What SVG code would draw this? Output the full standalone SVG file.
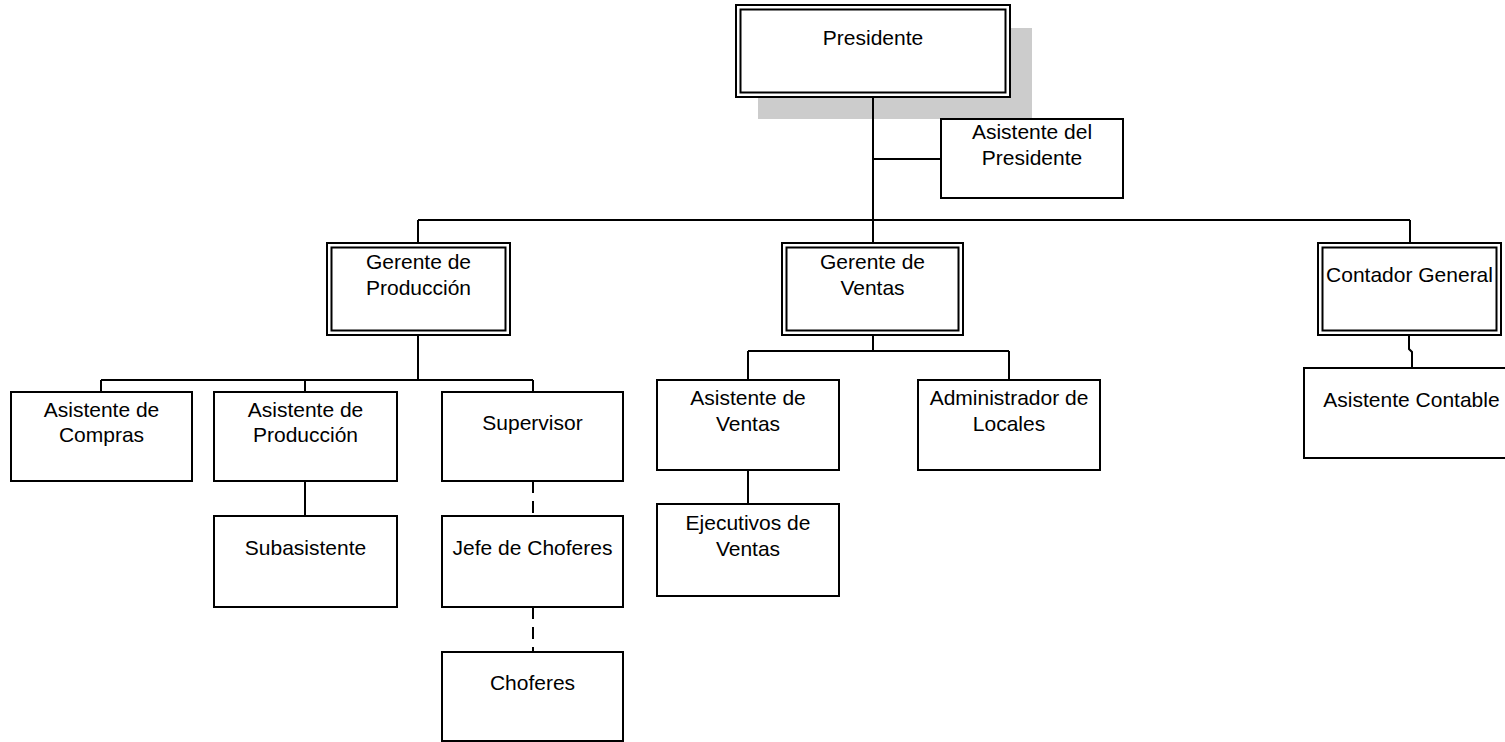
<svg xmlns="http://www.w3.org/2000/svg" width="1505" height="742" viewBox="0 0 1505 742">
  <style>
    .box { fill: #ffffff; stroke: #000000; stroke-width: 2; }
    .inner { fill: none; stroke: #000000; stroke-width: 2; }
    .lbl { font-family: "Liberation Sans", Arial, sans-serif; font-size: 21px; fill: #000000; text-anchor: middle; }
    .wire { fill: none; stroke: #000000; stroke-width: 2; }
    .dash { fill: none; stroke: #000000; stroke-width: 2; stroke-dasharray: 12 8; }
  </style>
  <rect width="1505" height="742" fill="#ffffff"/>

  <!-- drop shadow of the top box -->
  <rect x="758" y="28" width="274" height="91" fill="#cccccc"/>

  <!-- connectors -->
  <g id="connectors">
    <path class="wire" d="M873 97 V244"/>
    <path class="wire" d="M873 159 H941"/>
    <path class="wire" d="M418 220 H1410"/>
    <path class="wire" d="M418 220 V243"/>
    <path class="wire" d="M1410 220 V243"/>
    <!-- production branch -->
    <path class="wire" d="M418 335 V380"/>
    <path class="wire" d="M101 380 H533"/>
    <path class="wire" d="M101 380 V392"/>
    <path class="wire" d="M305 380 V392"/>
    <path class="wire" d="M533 380 V392"/>
    <path class="wire" d="M305 481 V516"/>
    <path class="dash" d="M533 481 V516"/>
    <path class="dash" d="M533 607 V652"/>
    <!-- sales branch -->
    <path class="wire" d="M873 335 V351"/>
    <path class="wire" d="M748 351 H1009"/>
    <path class="wire" d="M748 351 V380"/>
    <path class="wire" d="M1009 351 V380"/>
    <path class="wire" d="M748 470 V504"/>
    <!-- accounting branch -->
    <path class="wire" d="M1409 335 V349 L1412 352 V368"/>
  </g>

  <g id="presidente">
    <rect class="box" x="736" y="5" width="274" height="92"/>
    <rect class="inner" x="740.5" y="9.5" width="265" height="83"/>
    <text class="lbl" x="873" y="45">Presidente</text>
  </g>

  <g id="asistente-presidente">
    <rect class="box" x="941" y="119" width="182" height="79"/>
    <text class="lbl" x="1032" y="139">Asistente del</text>
    <text class="lbl" x="1032" y="165">Presidente</text>
  </g>

  <g id="gerente-produccion">
    <rect class="box" x="327" y="243" width="183" height="92"/>
    <rect class="inner" x="331.5" y="247.5" width="174" height="83"/>
    <text class="lbl" x="418.5" y="269">Gerente de</text>
    <text class="lbl" x="418.5" y="295">Producción</text>
  </g>

  <g id="gerente-ventas">
    <rect class="box" x="782" y="243" width="181" height="92"/>
    <rect class="inner" x="786.5" y="247.5" width="172" height="83"/>
    <text class="lbl" x="872.5" y="269">Gerente de</text>
    <text class="lbl" x="872.5" y="295">Ventas</text>
  </g>

  <g id="contador-general">
    <rect class="box" x="1318" y="243" width="183" height="92"/>
    <rect class="inner" x="1322.5" y="247.5" width="174" height="83"/>
    <text class="lbl" x="1409.5" y="282">Contador General</text>
  </g>

  <g id="asistente-compras">
    <rect class="box" x="11" y="392" width="181" height="89"/>
    <text class="lbl" x="101.5" y="417">Asistente de</text>
    <text class="lbl" x="101.5" y="442">Compras</text>
  </g>

  <g id="asistente-produccion">
    <rect class="box" x="214" y="392" width="183" height="89"/>
    <text class="lbl" x="305.5" y="417">Asistente de</text>
    <text class="lbl" x="305.5" y="442">Producción</text>
  </g>

  <g id="supervisor">
    <rect class="box" x="442" y="392" width="181" height="89"/>
    <text class="lbl" x="532.5" y="430">Supervisor</text>
  </g>

  <g id="subasistente">
    <rect class="box" x="214" y="516" width="183" height="91"/>
    <text class="lbl" x="305.5" y="555">Subasistente</text>
  </g>

  <g id="jefe-choferes">
    <rect class="box" x="442" y="516" width="181" height="91"/>
    <text class="lbl" x="532.5" y="555">Jefe de Choferes</text>
  </g>

  <g id="choferes">
    <rect class="box" x="442" y="652" width="181" height="89"/>
    <text class="lbl" x="532.5" y="690">Choferes</text>
  </g>

  <g id="asistente-ventas">
    <rect class="box" x="657" y="380" width="182" height="90"/>
    <text class="lbl" x="748" y="405">Asistente de</text>
    <text class="lbl" x="748" y="431">Ventas</text>
  </g>

  <g id="administrador-locales">
    <rect class="box" x="918" y="380" width="182" height="90"/>
    <text class="lbl" x="1009" y="405">Administrador de</text>
    <text class="lbl" x="1009" y="431">Locales</text>
  </g>

  <g id="ejecutivos-ventas">
    <rect class="box" x="657" y="504" width="182" height="92"/>
    <text class="lbl" x="748" y="530">Ejecutivos de</text>
    <text class="lbl" x="748" y="556">Ventas</text>
  </g>

  <g id="asistente-contable">
    <rect class="box" x="1304" y="368" width="216" height="90"/>
    <text class="lbl" x="1411.5" y="407">Asistente Contable</text>
  </g>
</svg>
